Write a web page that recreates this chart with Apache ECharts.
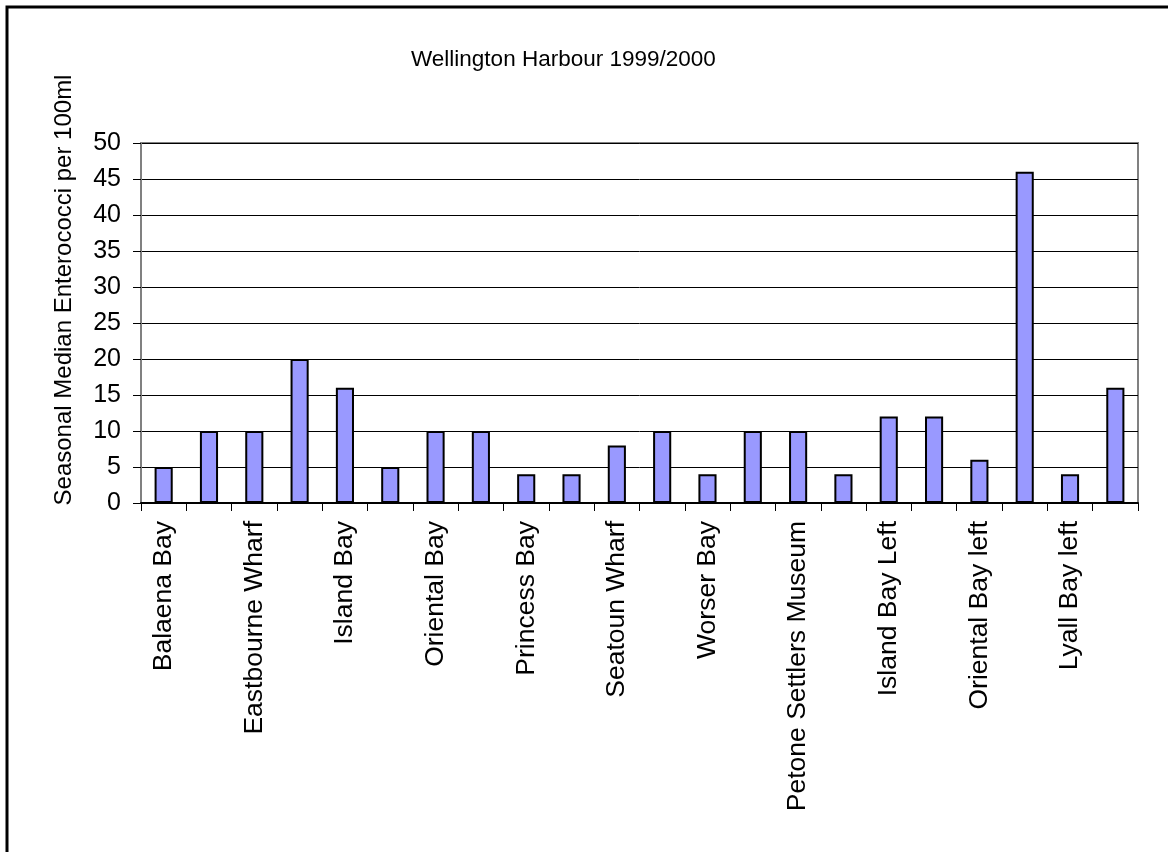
<!DOCTYPE html>
<html>
<head>
<meta charset="utf-8">
<script src="https://cdn.jsdelivr.net/npm/echarts@6/dist/echarts.min.js"></script>
<style>html,body{margin:0;padding:0;background:#fff;}#main{width:1168px;height:852px;}</style>
</head>
<body>
<div id="main"></div>
<script>
const categories = [
  "Balaena Bay", "Days Bay", "Eastbourne Wharf", "Hataitai Beach", "Island Bay",
  "Lyall Bay", "Oriental Bay", "Owhiro Bay", "Princess Bay", "Scorching Bay",
  "Seatoun Wharf", "Worser Bay (Seatoun)", "Worser Bay", "Petone Beach",
  "Petone Settlers Museum", "Island Bay Centre", "Island Bay Left", "Island Bay Right",
  "Oriental Bay left", "Oriental Bay right", "Lyall Bay left", "Lyall Bay right"
];
const values = [5, 10, 10, 20, 16, 5, 10, 10, 4, 4, 8, 10, 4, 10, 10, 4, 12, 12, 6, 46, 4, 16];
const yTicks = { min: 0, max: 50, interval: 5 };
const titleText = "Wellington Harbour 1999/2000";
const yAxisName = "Seasonal Median Enterococci per 100ml";

const chart = echarts.init(document.getElementById('main'), null, { renderer: 'canvas' });
const font = "Arial, 'Liberation Sans', sans-serif";
chart.setOption({
  animation: false,
  backgroundColor: '#fff',
  title: {
    text: titleText, left: 406, top: 43,
    textStyle: { fontFamily: font, fontSize: 22.5, fontWeight: 'normal', color: '#000' }
  },
  grid: {
    left: 141, top: 143, right: 30, bottom: 349,
    show: true, borderColor: '#808080', borderWidth: 2, backgroundColor: 'transparent'
  },
  xAxis: {
    type: 'category', data: categories,
    axisLine: { lineStyle: { color: '#000', width: 2 } },
    axisTick: { show: true, alignWithLabel: false, interval: 0, length: 8, lineStyle: { color: '#000', width: 1 } },
    axisLabel: {
      interval: 1, rotate: 90, margin: 18,
      fontFamily: font, fontSize: 26.5, color: '#000'
    },
    splitLine: { show: false }
  },
  yAxis: {
    type: 'value', min: yTicks.min, max: yTicks.max, interval: yTicks.interval,
    axisLine: { show: true, lineStyle: { color: '#808080', width: 2 } },
    axisTick: { show: true, length: 8, lineStyle: { color: '#000', width: 1 } },
    axisLabel: { fontFamily: font, fontSize: 25, color: '#000', margin: 20 },
    splitLine: { show: true, lineStyle: { color: '#000', width: 1 } }
  },
  series: [{
    type: 'bar', data: values, barWidth: '40%',
    itemStyle: { color: '#9999FF', borderColor: '#000', borderWidth: 2 }
  }],
  graphic: [
    {
      type: 'rect', shape: { x: 7, y: 7, width: 1300, height: 1000 },
      style: { fill: 'none', stroke: '#000', lineWidth: 3 }, silent: true
    },
    {
      type: 'text', x: 64, y: 290, rotation: Math.PI / 2,
      style: { text: yAxisName, fontFamily: font, fontSize: 24, fill: '#000', align: 'center', verticalAlign: 'middle' }
    }
  ]
});
</script>
</body>
</html>
